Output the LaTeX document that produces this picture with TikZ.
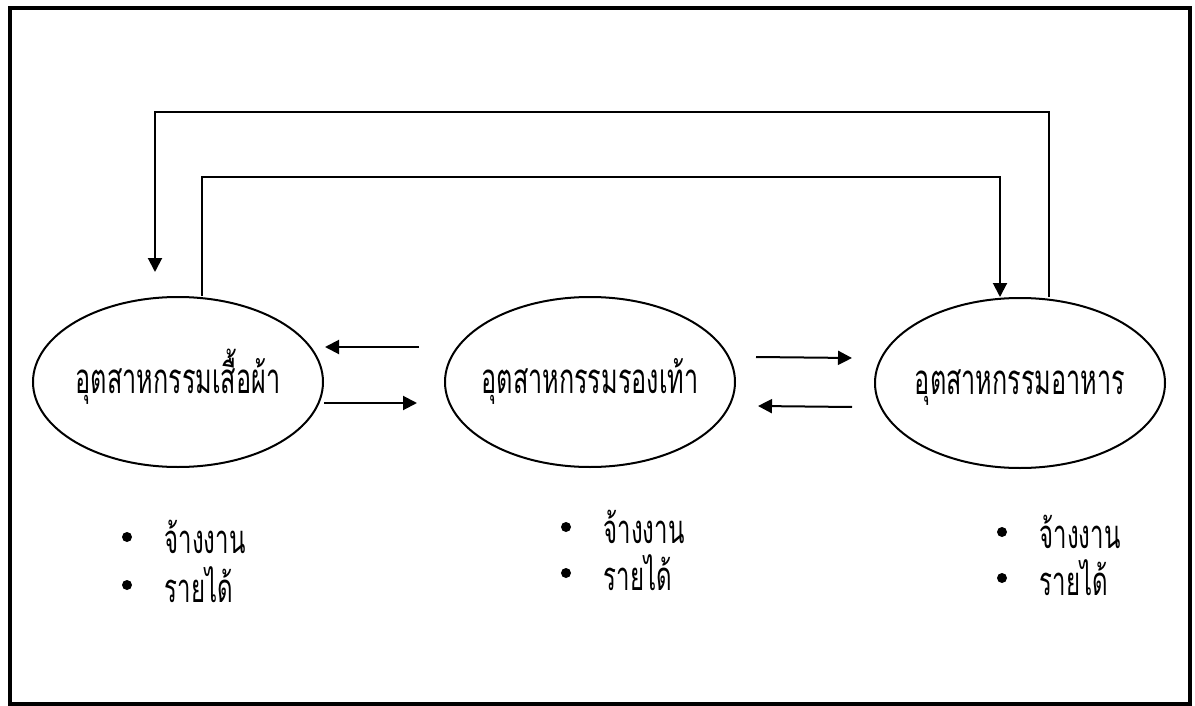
\documentclass[tikz,border=0pt]{standalone}
\usepackage{fontspec}
\newfontfamily\thaifont[Script=Thai,FakeStretch=0.6]{Loma}
\usepackage{tikz}
\usetikzlibrary{arrows.meta,positioning}
\usetikzlibrary{shapes.geometric}

\begin{document}
\begin{tikzpicture}[x=0.5pt,y=-0.5pt,line width=1pt,>={Triangle[length=7pt,width=7pt]}]%
        \useasboundingbox (0,0) rectangle (1195,706);%
        \draw[line width=1.8pt] (10,8) rectangle (1190,704); %%
        \begin{scope}[shape=ellipse,inner xsep=-6pt,inner ysep=0pt,minimum width=145pt,minimum height=85pt]
        \tikzstyle{every node}=[draw,font=\thaifont\fontsize{21}{23}\selectfont,text height=15pt,text depth=4pt] %%
        \node (fw) at (178,382)  {อุตสาหกรรมเสื้อผ้า}; %%
        \node (mw) at (590,382)  {อุตสาหกรรมรองเท้า}; %%
        \node (ra) at (1020,383)  {อุตสาหกรรมอาหาร}; %%
        \end{scope}%
        \begin{scope}[shape=circle,inner sep=0pt,minimum size=5pt]
        \tikzstyle{every node}=[fill=black] %%
        \node (fb1) at (127,537)  {}; %%
        \node (fb2) at (127,585)  {}; %%
        \node (mb1) at (566,527)  {}; %%
        \node (mb2) at (566,573)  {}; %%
        \node (rb1) at (1002,532)  {}; %%
        \node (rb2) at (1002,578)  {}; %%
        \end{scope}
        \begin{scope}[font=\thaifont\fontsize{20}{22}\selectfont]
        \node[right=12pt of fb1] (fl1)  {จ้างงาน}; %%
        \node[right=12pt of fb2] (fl2)  {รายได้}; %%
        \node[right=12pt of mb1] (ml1)  {จ้างงาน}; %%
        \node[right=12pt of mb2] (ml2)  {รายได้}; %%
        \node[right=12pt of rb1] (rl1)  {จ้างงาน}; %%
        \node[right=12pt of rb2] (rl2)  {รายได้}; %%
        \end{scope}
        \coordinate (ftip) at (155,272); %%
        \draw[->] ([xshift=14.5pt]ra.north) -- ++(0,-185) -| (ftip); %%
        \draw[->] ([xshift=12pt]fw.north) -- ++(0,-119) -| ([xshift=-10pt]ra.north); %%
        \draw[->] ([shift={(-25,-35)}]mw.west) -- ([shift={(1,-35)}]fw.east); %%
        \draw[->] ([shift={(0,21)}]fw.east) -- ([shift={(-27,21)}]mw.west); %%
        \draw[->] ([shift={(20,-25)}]mw.east) -- ([shift={(-22,-25)}]ra.west); %%
        \draw[->] ([shift={(-22,24)}]ra.west) -- ([shift={(22,24)}]mw.east); %%
        \end{tikzpicture}
\end{document}
